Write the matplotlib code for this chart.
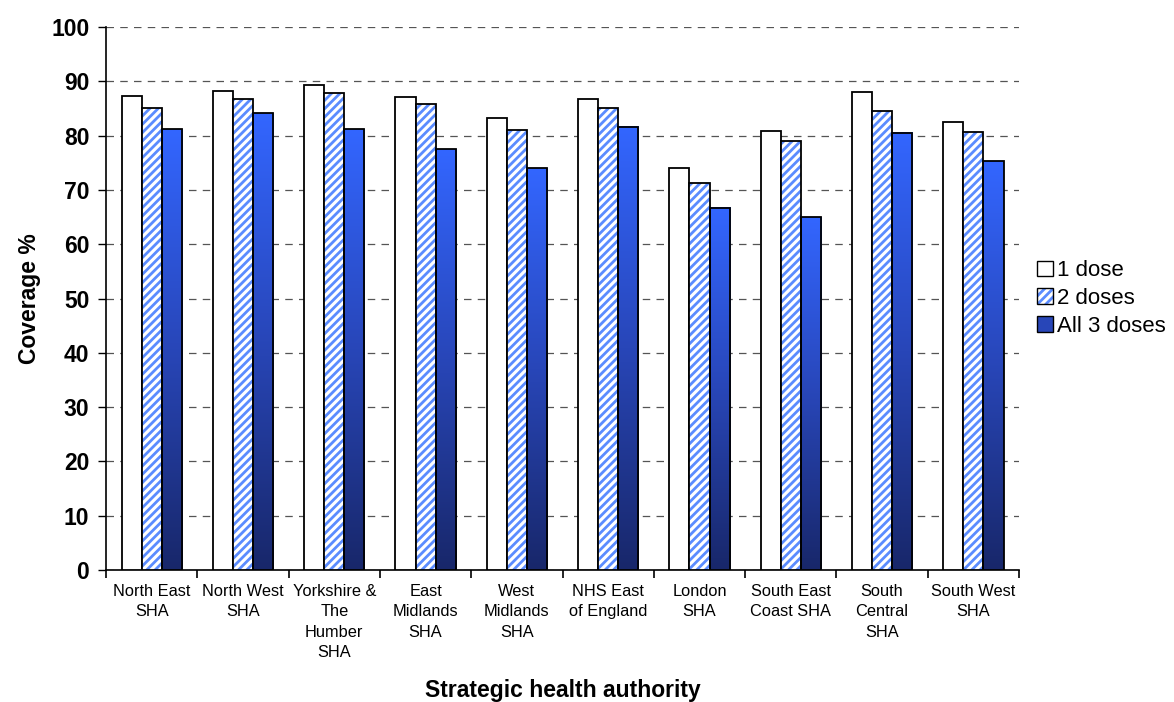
import numpy as np
import matplotlib
matplotlib.use('Agg')
import matplotlib.pyplot as plt
from matplotlib.colors import LinearSegmentedColormap
from matplotlib.patches import Patch
from matplotlib.legend_handler import HandlerTuple

plt.rcParams['font.family'] = ['Liberation Sans', 'DejaVu Sans']
plt.rcParams['hatch.linewidth'] = 2.0

regions = ['North East\nSHA', 'North West\nSHA', 'Yorkshire &\nThe\nHumber\nSHA',
           'East\nMidlands\nSHA', 'West\nMidlands\nSHA', 'NHS East\nof England',
           'London\nSHA', 'South East\nCoast SHA', 'South\nCentral\nSHA', 'South West\nSHA']
dose1 = [87.3, 88.3, 89.4, 87.2, 83.2, 86.7, 74.0, 80.9, 88.0, 82.6]
dose2 = [85.1, 86.7, 87.9, 85.8, 81.0, 85.0, 71.3, 79.1, 84.6, 80.7]
dose3 = [81.2, 84.1, 81.2, 77.5, 74.0, 81.6, 66.7, 65.0, 80.5, 75.3]

stripe = '#5b8cff'
grad = LinearSegmentedColormap.from_list('g', ['#18276a', '#2846b8', '#3366ff'])

fig = plt.figure(figsize=(11.74, 7.02), dpi=100)
ax = fig.add_axes([0.0903, 0.188, 0.7777, 0.7735])

x = np.arange(len(regions))
w = 0.22

# 1 dose - plain white
ax.bar(x - w, dose1, w, color='white', edgecolor='black', linewidth=1.3, zorder=3)

# 2 doses - white with blue diagonal stripes, black outline drawn on top
ax.bar(x, dose2, w, color='white', edgecolor=stripe, hatch='////', linewidth=0, zorder=3)
ax.bar(x, dose2, w, fill=False, edgecolor='black', linewidth=1.3, zorder=4)

# all 3 doses - vertical gradient
g = np.linspace(0, 1, 256).reshape(-1, 1)
for xi, h in zip(x + w, dose3):
    ax.imshow(g, cmap=grad, aspect='auto', origin='lower',
              extent=(xi - w / 2, xi + w / 2, 0, h), zorder=3, interpolation='bilinear')
ax.bar(x + w, dose3, w, fill=False, edgecolor='black', linewidth=1.3, zorder=4)

ax.set_xlim(-0.5, len(regions) - 0.5)
ax.set_ylim(0, 100)
ax.set_yticks(range(0, 101, 10))
ax.set_yticklabels([str(v) for v in range(0, 101, 10)], fontsize=16.5, fontweight='bold')
ax.yaxis.grid(True, linestyle=(0, (6, 5)), color='#555555', linewidth=0.9, zorder=0)
ax.set_axisbelow(True)

ax.set_xticks(x)
ax.set_xticklabels(regions, fontsize=11.8, linespacing=1.45)
ax.tick_params(axis='x', length=0, pad=10)
ax.set_xticks(np.arange(-0.5, len(regions)), minor=True)
ax.tick_params(axis='x', which='minor', length=6, width=1.2, direction='out')
ax.tick_params(axis='y', length=6, width=1.0, direction='out', pad=6)

for s in ['top', 'right']:
    ax.spines[s].set_visible(False)
ax.spines['left'].set_linewidth(1.2)
ax.spines['bottom'].set_linewidth(1.2)

ax.set_ylabel('Coverage %', fontsize=16.5, fontweight='bold', labelpad=7)
fig.text(0.4792, 1 - 690 / 702, 'Strategic health authority', fontsize=16.5,
         fontweight='bold', ha='center', va='center')

h1 = Patch(facecolor='white', edgecolor='black', linewidth=1.0)
h2 = (Patch(facecolor='white', edgecolor=stripe, hatch='////', linewidth=0),
      Patch(fill=False, edgecolor='black', linewidth=1.0))
h3 = Patch(facecolor='#2846b8', edgecolor='black', linewidth=1.0)
ax.legend([h1, h2, h3], ['1 dose', '2 doses', 'All 3 doses'],
          handler_map={tuple: HandlerTuple(ndivide=1, pad=0)},
          loc='center left', bbox_to_anchor=(1.003, 0.5), frameon=False,
          fontsize=16, handlelength=0.7, handleheight=0.7, handletextpad=0.2,
          labelspacing=0.3, borderaxespad=0.3)

fig.savefig('out.png', dpi=100)
